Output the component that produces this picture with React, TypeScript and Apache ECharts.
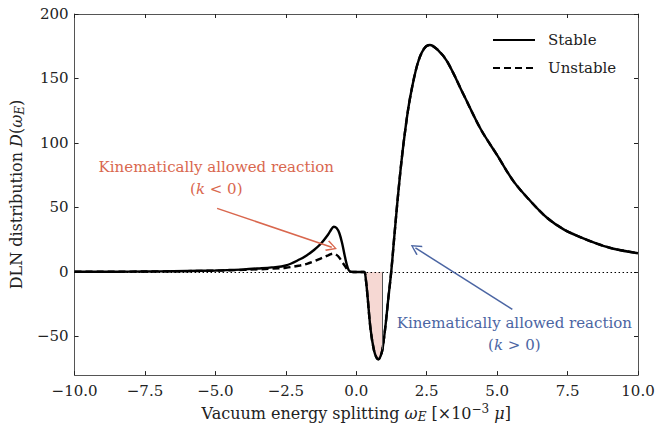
import React, { useEffect, useRef } from "react";
import * as echarts from "echarts";

const xs = [-10, -9, -8, -7, -6, -5, -4.5, -4, -3.5, -3, -2.5, -2, -1.75, -1.5, -1.25, -1.0, -0.9, -0.8, -0.7, -0.6, -0.5, -0.4, -0.3, -0.22, -0.1, 0.0, 0.15, 0.28, 0.34, 0.4, 0.51, 0.63, 0.72, 0.79, 0.86, 0.93, 1.04, 1.14, 1.24, 1.34, 1.45, 1.6, 1.75, 1.91, 2.17, 2.4, 2.61, 2.9, 3.23, 3.82, 4.41, 5.0, 5.59, 6.18, 6.77, 7.36, 7.95, 8.54, 9.13, 10];
const stableY = [0.1, 0.15, 0.25, 0.4, 0.7, 1.1, 1.5, 2.0, 2.7, 3.5, 5.0, 9.8, 13, 17, 22, 29, 32.5, 35, 34, 30, 22, 11.5, 3, 0.3, 0, 0, 0, 0, -6, -19, -45, -61, -66.5, -67.7, -65.5, -60, -41, -20, 0, 25, 52, 85, 112, 135, 161, 173, 176, 172, 163, 137, 111, 90.5, 70, 55, 42, 33, 27, 22, 18, 14.5];
const unstableY = [0.1, 0.15, 0.25, 0.4, 0.65, 1.0, 1.3, 1.6, 2.0, 2.5, 3.2, 5.0, 6.3, 8.2, 10.5, 12.8, 13.8, 14.2, 13.2, 11, 7.7, 4.5, 1.5, 0.2, 0, 0, 0, 0, -6, -19, -45, -61, -66.5, -67.7, -65.5, -60, -41, -20, 0, 25, 52, 85, 112, 135, 161, 173, 176, 172, 163, 137, 111, 90.5, 70, 55, 42, 33, 27, 22, 18, 14.5];

const xTicks = [-10, -7.5, -5, -2.5, 0, 2.5, 5, 7.5, 10];
const yTicks = [-50, 0, 50, 100, 150, 200];

const fillStart = 0.28;
const fillEnd = 0.93;

const redArrow = [[-4.94, 49.3], [-0.87, 19.2]];
const blueArrow = [[5.54, -29], [2.1, 18.6]];
const redLabelAt = [-4.97, 72.8];
const blueLabelAt = [5.61, -48.3];

const FONT = "DejaVu Serif";
const FS = 15;
const NFS = 16;
const RED = "#d9674e";
const BLUE = "#4b65a3";

export default function App() {
  const ref = useRef<HTMLDivElement>(null);
  useEffect(() => {
    if (!ref.current) return;
    const chart = echarts.init(ref.current, undefined, { renderer: "svg" });
    const stable = xs.map((x, i) => [x, stableY[i]]);
    const unstable = xs.map((x, i) => [x, unstableY[i]]);
    const fill = stable.filter((p) => p[0] >= fillStart && p[0] <= fillEnd);
    const fillEndY = fill[fill.length - 1][1];
    const fmt = (v: number) => (v < 0 ? "\u2212" : "") + Math.abs(v).toFixed(1);
    const chevron = "path://M5,0 L10,9 L9,10 L5,2.4 L1,10 L0,9 Z";
    const axisCommon = {
      axisLine: { show: true, onZero: false, lineStyle: { color: "#555", width: 1 } },
      splitLine: { show: false },
    };
    const tickStyle = { show: true, inside: true, length: 4, lineStyle: { color: "#222", width: 1 } };
    const labelStyle = { fontFamily: FONT, fontSize: FS, color: "#222" };
    const rich = {
      n: { fontFamily: FONT, fontSize: NFS, color: "#222" },
      i: { fontFamily: FONT, fontSize: NFS, color: "#222", fontStyle: "italic" },
      s: { fontFamily: FONT, fontSize: 12, color: "#222", fontStyle: "italic", padding: [8, 0, 0, 0] },
      sup: { fontFamily: FONT, fontSize: 12, color: "#222", padding: [0, 0, 8, 0] },
    };
    const annRich = (color: string) => ({
      n: { fontFamily: FONT, fontSize: FS, color, lineHeight: 22 },
      i: { fontFamily: FONT, fontSize: FS, color, fontStyle: "italic", lineHeight: 22 },
    });
    const lineSeries = (name: string, data: number[][], type: any, z: number) => ({
      name,
      type: "line",
      data,
      smooth: 0.35,
      showSymbol: false,
      symbol: "none",
      lineStyle: { color: "#000", width: 2.4, type },
      itemStyle: { color: "#000" },
      z,
    });
    chart.setOption({
      animation: false,
      grid: { left: 73, right: 30, top: 14, bottom: 49, show: false },
      legend: {
        data: ["Stable", "Unstable"],
        orient: "vertical",
        left: 487,
        top: 27,
        itemWidth: 42,
        itemHeight: 14,
        itemGap: 12,
        itemStyle: { opacity: 0 },
        textStyle: { fontFamily: FONT, fontSize: FS, color: "#222", padding: [0, 0, 0, 8], lineHeight: 16 },
      },
      xAxis: [
        {
          type: "value",
          min: -10,
          max: 10,
          interval: 2.5,
          position: "bottom",
          ...axisCommon,
          axisTick: tickStyle,
          axisLabel: { ...labelStyle, formatter: fmt, margin: 8, customValues: xTicks },
          name: "{n|Vacuum energy splitting }{i|\u03c9}{s|E}{n| [\u00d710}{sup|\u22123}{n| }{i|\u03bc}{n|]}",
          nameLocation: "middle",
          nameGap: 25,
          nameTextStyle: { rich },
        },
        {
          type: "value",
          min: -10,
          max: 10,
          interval: 2.5,
          position: "top",
          ...axisCommon,
          axisTick: tickStyle,
          axisLabel: { show: false },
        },
      ],
      yAxis: [
        {
          type: "value",
          min: -80,
          max: 200,
          position: "left",
          ...axisCommon,
          axisTick: { ...tickStyle, customValues: yTicks },
          axisLabel: { ...labelStyle, margin: 6, customValues: yTicks, formatter: (v: number) => (v < 0 ? "\u2212" : "") + Math.abs(v) },
          name: "{n|DLN distribution }{i|D}{n|(}{i|\u03c9}{s|E}{n|)}",
          nameLocation: "middle",
          nameGap: 42,
          nameTextStyle: { rich },
        },
        {
          type: "value",
          min: -80,
          max: 200,
          position: "right",
          ...axisCommon,
          axisTick: { ...tickStyle, customValues: yTicks },
          axisLabel: { show: false, customValues: yTicks },
        },
      ],
      series: [
        {
          name: "fill",
          type: "line",
          data: fill,
          smooth: 0.35,
          showSymbol: false,
          symbol: "none",
          lineStyle: { width: 0, opacity: 0 },
          areaStyle: { color: "#f6d8d3", opacity: 1 },
          z: 1,
          silent: true,
          markLine: {
            silent: true,
            symbol: ["none", "none"],
            label: { show: false },
            data: [
              [
                { coord: [-10, 0], lineStyle: { color: "#000", width: 1, type: [1.5, 2.5] } },
                { coord: [10, 0] },
              ],
              [
                { coord: [fillEnd, 0], lineStyle: { color: "#555", width: 1, type: "solid" } },
                { coord: [fillEnd, fillEndY] },
              ],
            ],
          },
        },
        {
          name: "arrows",
          type: "line",
          data: [],
          z: 4,
          silent: true,
          markLine: {
            silent: true,
            symbol: ["none", chevron],
            symbolSize: [11, 11],
            label: { show: false },
            data: [
              [
                { coord: redArrow[0], lineStyle: { color: RED, width: 1.5, type: "solid" }, itemStyle: { color: RED } },
                { coord: redArrow[1] },
              ],
              [
                { coord: blueArrow[0], lineStyle: { color: BLUE, width: 1.5, type: "solid" }, itemStyle: { color: BLUE } },
                { coord: blueArrow[1] },
              ],
            ],
          },
          markPoint: {
            silent: true,
            symbol: "circle",
            symbolSize: 1,
            itemStyle: { color: "rgba(0,0,0,0)" },
            data: [
              {
                coord: redLabelAt,
                label: {
                  show: true,
                  position: "inside",
                  align: "center",
                  formatter: "{n|Kinematically allowed reaction}\n{n|(}{i|k}{n| < 0)}",
                  rich: annRich(RED),
                },
              },
              {
                coord: blueLabelAt,
                label: {
                  show: true,
                  position: "inside",
                  align: "center",
                  formatter: "{n|Kinematically allowed reaction}\n{n|(}{i|k}{n| > 0)}",
                  rich: annRich(BLUE),
                },
              },
            ],
          },
        },
        lineSeries("Unstable", unstable, [7, 4], 2),
        lineSeries("Stable", stable, "solid", 3),
      ],
    });
    return () => chart.dispose();
  }, []);
  return <div ref={ref} style={{ position: "fixed", left: 0, top: 0, width: 668, height: 428, background: "#fff" }} />;
}
